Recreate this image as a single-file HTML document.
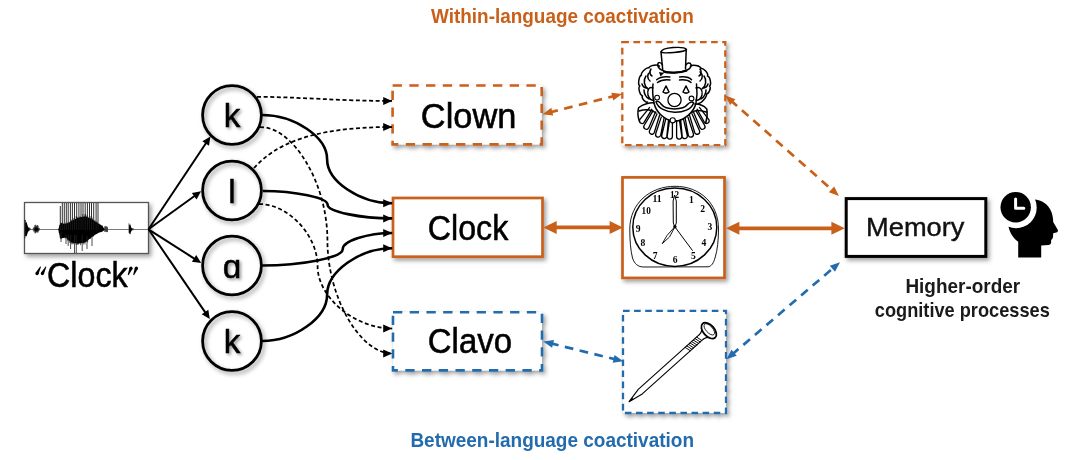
<!DOCTYPE html>
<html><head><meta charset="utf-8"><style>
html,body{margin:0;padding:0;background:#fff;width:1080px;height:460px;overflow:hidden}
svg{display:block;filter:blur(0.5px)}
</style></head><body>
<svg width="1080" height="460" viewBox="0 0 1080 460">
<defs>
<filter id="sh" x="-20%" y="-20%" width="140%" height="150%"><feDropShadow dx="2.2" dy="2.6" stdDeviation="2.1" flood-color="#000" flood-opacity="0.38"/></filter>
<filter id="tsh" x="-30%" y="-30%" width="160%" height="160%"><feDropShadow dx="1.8" dy="1.8" stdDeviation="1.8" flood-color="#000" flood-opacity="0.4"/></filter>
</defs>
<rect width="1080" height="460" fill="#fff"/>
<text x="431" y="22.7" font-family="Liberation Sans, sans-serif" font-weight="bold" font-size="19.8" fill="#C9601A" textLength="262.7" lengthAdjust="spacingAndGlyphs">Within-language coactivation</text>
<text x="410.4" y="446.7" font-family="Liberation Sans, sans-serif" font-weight="bold" font-size="19.6" fill="#226CAD" textLength="283.6" lengthAdjust="spacingAndGlyphs">Between-language coactivation</text>
<text x="905.4" y="292.6" font-family="Liberation Sans, sans-serif" font-weight="bold" font-size="20.2" fill="#1a1a1a" textLength="114.8" lengthAdjust="spacingAndGlyphs">Higher-order</text>
<text x="874.8" y="317" font-family="Liberation Sans, sans-serif" font-weight="bold" font-size="20.2" fill="#1a1a1a" textLength="175" lengthAdjust="spacingAndGlyphs">cognitive processes</text>
<rect x="24.5" y="202.5" width="124" height="51" fill="#fff" stroke="#555" stroke-width="1.3" filter="url(#sh)"/>
<path d="M25.00,219.92V238.26M25.55,219.94V235.95M26.10,223.38V234.84M26.65,225.61V233.46M27.20,225.44V233.01M27.75,227.22V231.55M28.30,227.68V231.58M28.85,227.40V230.44M29.40,227.60V230.78M29.95,228.16V230.29M30.50,228.66V229.83M31.05,229.00V229.60M31.60,229.00V229.60M32.15,229.00V229.60M32.70,228.97V229.68M33.25,228.03V230.57M33.80,227.20V231.45M34.35,226.54V231.66M34.90,224.92V233.35M35.45,224.73V233.31M36.00,225.73V232.55M36.55,225.80V232.18M37.10,224.92V232.70M37.65,225.25V232.30M38.20,225.81V232.39M38.75,227.93V230.91M39.30,227.86V230.39M39.85,228.98V229.60M40.40,229.00V229.60M40.95,229.00V229.60M41.50,229.00V229.60M42.05,228.98V229.60M42.60,229.00V229.60M43.15,229.00V229.60M43.70,229.00V229.60M44.25,229.00V229.60M44.80,229.00V229.60M45.35,229.00V229.60M45.90,229.00V229.60M46.45,229.00V229.60M47.00,228.98V229.60M47.55,229.00V229.60M48.10,229.00V229.60M48.65,229.00V229.60M49.20,229.00V229.60M49.75,229.00V229.60M50.30,229.00V229.60M50.85,229.00V229.60M51.40,229.00V229.60M51.95,229.00V229.60M52.50,229.00V229.60M53.05,228.98V229.60M53.60,229.00V229.60M54.15,229.00V229.60M54.70,228.99V229.60M55.25,229.00V229.60M55.80,229.00V229.60M56.35,229.00V229.60M56.90,228.99V229.60M57.45,229.00V229.60M58.00,229.00V229.60M58.55,229.00V229.99M59.10,227.56V232.94M59.65,225.12V234.11M60.20,224.84V238.29M60.75,225.13V236.22M61.30,223.15V239.21M61.85,223.04V236.34M62.40,222.08V235.86M62.95,225.64V236.12M63.50,223.98V234.95M64.05,225.11V236.44M64.60,223.73V235.18M65.15,224.57V238.57M65.70,222.65V237.47M66.25,223.25V237.60M66.80,225.08V235.14M67.35,225.44V240.12M67.90,222.31V240.91M68.45,225.07V239.69M69.00,222.66V240.70M69.55,223.17V242.75M70.10,224.24V240.51M70.65,220.63V243.23M71.20,220.32V242.47M71.75,219.73V244.39M72.30,221.80V242.94M72.85,218.51V244.34M73.40,220.91V243.88M73.95,218.03V242.40M74.50,219.09V241.04M75.05,219.06V242.85M75.60,222.30V243.17M76.15,215.88V245.01M76.70,217.21V241.40M77.25,216.85V242.99M77.80,218.65V245.02M78.35,221.39V244.32M78.90,221.79V243.12M79.45,217.99V240.09M80.00,216.25V242.18M80.55,216.75V245.21M81.10,219.49V238.02M81.65,219.02V243.31M82.20,219.77V239.29M82.75,214.07V243.03M83.30,217.54V244.58M83.85,218.40V242.91M84.40,219.45V241.12M84.95,214.27V244.47M85.50,213.79V240.45M86.05,216.35V239.56M86.60,220.33V240.42M87.15,214.93V242.16M87.70,216.11V242.22M88.25,219.66V237.10M88.80,218.50V237.41M89.35,220.53V237.83M89.90,217.70V237.84M90.45,220.13V239.03M91.00,215.93V236.79M91.55,222.34V234.41M92.10,217.41V234.22M92.65,218.80V236.21M93.20,221.57V236.65M93.75,223.73V233.88M94.30,221.38V233.18M94.85,219.87V233.70M95.40,223.74V232.78M95.95,221.64V233.72M96.50,222.03V233.91M97.05,221.72V234.19M97.60,222.60V232.22M98.15,223.75V232.03M98.70,225.87V232.49M99.25,223.65V231.74M99.80,225.40V231.91M100.35,224.47V232.04M100.90,225.07V232.20M101.45,225.96V232.04M102.00,225.21V230.90M102.55,225.86V231.41M103.10,227.79V230.74M103.65,227.82V230.67M104.20,228.66V230.06M104.75,226.23V232.04M105.30,226.13V231.65M105.85,226.54V231.31M106.40,226.44V232.09M106.95,226.56V231.97M107.50,227.22V232.18M108.05,228.98V229.60M108.60,229.00V229.60M109.15,229.00V229.60M109.70,229.00V229.60M110.25,229.00V229.60M110.80,229.00V229.60M111.35,229.00V229.60M111.90,229.00V229.60M112.45,229.00V229.60M113.00,229.00V229.60M113.55,229.00V229.60M114.10,229.00V229.60M114.65,229.00V229.60M115.20,228.98V229.60M115.75,228.98V229.60M116.30,229.00V229.60M116.85,229.00V229.60M117.40,229.00V229.60M117.95,229.00V229.60M118.50,229.00V229.60M119.05,229.00V229.60M119.60,229.00V229.60M120.15,228.98V229.60M120.70,229.00V229.60M121.25,229.00V229.60M121.80,229.00V229.60M122.35,228.98V229.60M122.90,229.00V229.60M123.45,229.00V229.60M124.00,229.00V229.60M124.55,229.00V229.60M125.10,228.98V229.60M125.65,229.00V229.60M126.20,229.00V229.60M126.75,229.00V229.60M127.30,229.00V229.60M127.85,229.00V229.60M128.40,228.99V229.60M128.95,223.34V232.84M129.50,226.06V232.52M130.05,225.83V231.97M130.60,227.07V231.75M131.15,227.87V231.32M131.70,228.17V230.72M132.25,228.32V230.22M132.80,228.38V230.13M133.35,228.65V229.94M133.90,228.74V229.72M134.45,229.00V229.60M135.00,229.00V229.60M135.55,229.00V229.60M136.10,228.99V229.60M136.65,229.00V229.60M137.20,228.99V229.60M137.75,229.00V229.60M138.30,229.00V229.60M138.85,228.99V229.60M139.40,229.00V229.60M139.95,229.00V229.60M140.50,229.00V229.60M141.05,229.00V229.60M141.60,229.00V229.60M142.15,229.00V229.60M142.70,229.00V229.60M143.25,228.98V229.60M143.80,229.00V229.60M144.35,229.00V229.60M144.90,229.00V229.60M145.45,229.00V229.60M146.00,229.00V229.60M146.55,229.00V229.60M147.10,229.00V229.60M147.65,229.00V229.60" stroke="#000" stroke-width="0.6" fill="none"/>
<path d="M58.5,229.2 L60.3,223.0 L65.7,224.0 L71.8,221.0 L77.9,217.8 L85.2,216.3 L91.3,218.8 L97.4,223.0 L102.2,226.1 L104.7,229.2 L104.7,229.7 L102.2,231.6 L97.4,233.3 L91.3,237.5 L85.2,242.6 L77.9,243.7 L71.8,242.6 L65.7,237.5 L60.3,238.5 L58.5,229.7Z" fill="#000"/>
<path d="M25.3,223 L26.6,222 L27.8,226.5 L29.3,229.3 L27.8,232 L26.6,236.5 L25.3,235.5 Z M34,229.3 L35.5,227.2 L37.5,227.8 L38.8,229.3 L37.5,230.8 L35.5,231.4 Z M129.2,225 L130.3,224.2 L131.3,228 L132.6,229.3 L131.3,230.6 L130.3,234.5 L129.2,233.5 Z" fill="#000"/>
<path d="M60.3,206V230.0M62.3,203V230.0M64.3,203V230.0M66.3,203V230.0M68.2,203V230.0M70.4,203V230.0M72.4,203V230.0M74.5,203V230.0M76.7,203V230.0M78.9,203V230.0M81.0,203V230.0M83.0,203V230.0M85.2,203V230.0M87.4,203V230.0M89.5,203V230.0M91.5,203V230.0M93.7,203V230.0M96.1,203V230.0M98.0,203V230.0" stroke="#1a1a1a" stroke-width="0.9" fill="none"/>
<path d="M74.5,235V253M76.3,235V253M82.2,235V251M68.2,235V246M70.6,235V249M87,236V249M92,236V246M61,232V242M66,235V244" stroke="#222" stroke-width="0.8" fill="none"/>
<text x="47.1" y="286.7" font-family="Liberation Sans, sans-serif" font-size="35.5" fill="#000" stroke="#000" stroke-width="0.55" textLength="80.6" lengthAdjust="spacingAndGlyphs">Clock</text>
<polygon points="40.20,266.39 35.58,272.87 38.42,274.33 41.00,266.81" fill="#000"/><circle cx="37.00" cy="273.60" r="1.60" fill="#000"/><polygon points="45.60,266.39 40.98,272.87 43.82,274.33 46.40,266.81" fill="#000"/><circle cx="42.40" cy="273.60" r="1.60" fill="#000"/><polygon points="128.62,275.17 132.48,268.81 129.52,267.59 127.78,274.83" fill="#000"/><circle cx="131.00" cy="268.20" r="1.60" fill="#000"/><polygon points="134.02,275.17 137.88,268.81 134.92,267.59 133.18,274.83" fill="#000"/><circle cx="136.40" cy="268.20" r="1.60" fill="#000"/>
<line x1="148.50" y1="229.30" x2="207.10" y2="141.45" stroke="#000" stroke-width="2"/><polygon points="210.40,136.50 209.01,145.79 202.36,141.35" fill="#000"/>
<line x1="148.50" y1="229.30" x2="196.28" y2="194.78" stroke="#000" stroke-width="2"/><polygon points="201.10,191.30 196.55,199.52 191.87,193.04" fill="#000"/>
<line x1="148.50" y1="229.30" x2="196.19" y2="259.79" stroke="#000" stroke-width="2"/><polygon points="201.20,263.00 191.88,261.79 196.19,255.05" fill="#000"/>
<line x1="148.50" y1="229.30" x2="206.44" y2="314.09" stroke="#000" stroke-width="2"/><polygon points="209.80,319.00 201.70,314.24 208.31,309.73" fill="#000"/>
<circle cx="232" cy="115" r="29.3" fill="#fff"/><circle cx="232" cy="115" r="29.4" fill="none" stroke="#000" stroke-width="2.8" filter="url(#sh)"/>
<circle cx="232" cy="190.5" r="29.3" fill="#fff"/><circle cx="232" cy="190.5" r="29.4" fill="none" stroke="#000" stroke-width="2.8" filter="url(#sh)"/>
<circle cx="232" cy="265.5" r="29.3" fill="#fff"/><circle cx="232" cy="265.5" r="29.4" fill="none" stroke="#000" stroke-width="2.8" filter="url(#sh)"/>
<circle cx="232" cy="341" r="29.3" fill="#fff"/><circle cx="232" cy="341" r="29.4" fill="none" stroke="#000" stroke-width="2.8" filter="url(#sh)"/>
<rect x="392.6" y="85.5" width="149.1" height="58.9" fill="#fff" stroke="#C9601A" stroke-width="2.6" stroke-dasharray="9.3 7.43" filter="url(#sh)"/>
<rect x="393" y="198" width="149.5" height="58.7" fill="#fff" stroke="#C9601A" stroke-width="2.7" filter="url(#sh)"/>
<rect x="393" y="312.2" width="149" height="58.2" fill="#fff" stroke="#226CAD" stroke-width="2.6" stroke-dasharray="9.3 7.43" filter="url(#sh)"/>
<text x="420.8" y="127.8" font-family="Liberation Sans, sans-serif" font-size="35" fill="#000" stroke="#000" stroke-width="0.55" textLength="95.6" lengthAdjust="spacingAndGlyphs">Clown</text>
<text x="427.8" y="240.4" font-family="Liberation Sans, sans-serif" font-size="35" fill="#000" stroke="#000" stroke-width="0.55" textLength="80.5" lengthAdjust="spacingAndGlyphs">Clock</text>
<text x="427.8" y="353.3" font-family="Liberation Sans, sans-serif" font-size="35" fill="#000" stroke="#000" stroke-width="0.55" textLength="84.2" lengthAdjust="spacingAndGlyphs">Clavo</text>
<rect x="622.3" y="42.2" width="103" height="102.9" fill="#fff" stroke="#C9601A" stroke-width="2.3" stroke-dasharray="6.6 4.5" filter="url(#sh)"/>
<rect x="622.5" y="177.4" width="102" height="100.5" fill="#fff" stroke="#C9601A" stroke-width="2.7" filter="url(#sh)"/>
<rect x="623" y="310.8" width="103" height="102.2" fill="#fff" stroke="#226CAD" stroke-width="2.3" stroke-dasharray="6.6 4.5" filter="url(#sh)"/>
<rect x="846.2" y="198.6" width="139.6" height="57.8" fill="#fff" stroke="#000" stroke-width="3" filter="url(#sh)"/>
<text x="866.1" y="236.4" font-family="Liberation Sans, sans-serif" font-size="25.4" fill="#111" stroke="#111" stroke-width="0.4" textLength="98.3" lengthAdjust="spacingAndGlyphs">Memory</text>
<path d="M262.00,115.00 C294.55,115.00 327.10,137.07 327.10,159.15 C327.10,181.23 359.65,203.30 392.20,203.30" fill="none" stroke="#000" stroke-width="2.6"/><polygon points="392.20,203.30 383.20,207.30 383.20,199.30" fill="#000"/>
<path d="M263.00,191.00 C295.30,191.00 327.60,197.85 327.60,204.70 C327.60,211.55 359.90,218.40 392.20,218.40" fill="none" stroke="#000" stroke-width="2.6"/><polygon points="392.20,218.40 383.20,222.40 383.20,214.40" fill="#000"/>
<path d="M262.00,265.50 C302.36,265.50 342.72,257.38 342.72,249.25 C342.72,241.12 367.46,233.00 392.20,233.00" fill="none" stroke="#000" stroke-width="2.6"/><polygon points="392.20,233.00 383.20,237.00 383.20,229.00" fill="#000"/>
<path d="M262.00,341.00 C294.55,341.00 327.10,317.82 327.10,294.65 C327.10,271.48 359.65,248.30 392.20,248.30" fill="none" stroke="#000" stroke-width="2.6"/><polygon points="392.20,248.30 383.20,252.30 383.20,244.30" fill="#000"/>
<path d="M257,96.8 C300,97 340,101 392,100.9" fill="none" stroke="#000" stroke-width="1.75" stroke-dasharray="4 2.6"/><polygon points="392.20,100.90 383.20,104.90 383.20,96.90" fill="#000"/>
<path d="M254,168 C275,145 310,127 392,127" fill="none" stroke="#000" stroke-width="1.75" stroke-dasharray="4 2.6"/><polygon points="392.20,127.00 383.20,131.00 383.20,123.00" fill="#000"/>
<path d="M260.00,127.00 C293.71,127.00 327.42,183.62 327.42,240.25 C327.42,296.88 359.81,353.50 392.20,353.50" fill="none" stroke="#000" stroke-width="1.75" stroke-dasharray="4 2.6"/><polygon points="392.20,353.50 383.20,357.50 383.20,349.50" fill="#000"/>
<path d="M259.00,204.00 C288.30,204.00 317.61,235.12 317.61,266.25 C317.61,297.38 354.90,328.50 392.20,328.50" fill="none" stroke="#000" stroke-width="1.75" stroke-dasharray="4 2.6"/><polygon points="392.20,328.50 383.20,332.50 383.20,324.50" fill="#000"/>
<line x1="549.39" y1="112.48" x2="615.21" y2="95.82" stroke="#C9601A" stroke-width="2.7" stroke-dasharray="8.7 6.5"/><polygon points="622.00,94.10 613.29,100.43 611.32,92.68" fill="#C9601A"/><polygon points="542.60,114.20 551.31,107.87 553.28,115.62" fill="#C9601A"/>
<line x1="730.54" y1="100.14" x2="833.76" y2="191.36" stroke="#C9601A" stroke-width="2.7" stroke-dasharray="8.7 6.5"/><polygon points="839.00,196.00 828.86,192.37 834.16,186.38" fill="#C9601A"/><polygon points="725.30,95.50 735.44,99.13 730.14,105.12" fill="#C9601A"/>
<line x1="552.68" y1="227.40" x2="613.62" y2="227.40" stroke="#C9601A" stroke-width="3.8"/><polygon points="623.00,227.40 609.60,233.90 609.60,220.90" fill="#C9601A"/><polygon points="543.30,227.40 556.70,220.90 556.70,233.90" fill="#C9601A"/>
<line x1="735.38" y1="228.30" x2="835.42" y2="228.30" stroke="#C9601A" stroke-width="3.7"/><polygon points="844.80,228.30 831.40,234.80 831.40,221.80" fill="#C9601A"/><polygon points="726.00,228.30 739.40,221.80 739.40,234.80" fill="#C9601A"/>
<line x1="550.09" y1="343.18" x2="616.51" y2="359.62" stroke="#226CAD" stroke-width="2.7" stroke-dasharray="8.7 6.5"/><polygon points="623.30,361.30 612.63,362.78 614.55,355.01" fill="#226CAD"/><polygon points="543.30,341.50 553.97,340.02 552.05,347.79" fill="#226CAD"/>
<line x1="731.82" y1="354.75" x2="834.68" y2="266.75" stroke="#226CAD" stroke-width="2.7" stroke-dasharray="8.7 6.5"/><polygon points="840.00,262.20 835.00,271.74 829.80,265.66" fill="#226CAD"/><polygon points="726.50,359.30 731.50,349.76 736.70,355.84" fill="#226CAD"/>
<path stroke="#000" fill="none" stroke-width="1.5" stroke-linecap="round" stroke-linejoin="round" d="M659.5,66.2 C658.1,64.0 649.7,65.3 649.0,67.8 C646.6,66.8 640.5,72.7 641.4,75.2 C638.9,75.9 637.6,84.6 639.8,86.0 C637.8,87.6 639.9,95.5 642.5,95.9 C641.1,98.0 645.1,102.9 647.5,102.0"/>
<path stroke="#000" fill="none" stroke-width="1.5" stroke-linecap="round" stroke-linejoin="round" d="M690.5,66.2 C692.1,64.1 700.5,65.9 701.0,68.5 C703.5,67.7 708.7,73.7 707.5,76.0 C710.1,76.5 711.7,84.5 709.5,86.0 C711.4,87.6 709.0,94.0 706.5,94.0 C707.4,96.6 700.6,104.2 698.0,103.5"/>
<path stroke="#000" fill="none" stroke-width="1.5" stroke-linecap="round" stroke-linejoin="round" d="M646,76 C643,80 644,86 648,89 M650,72 C647,74 647,79 650,81 M644,90 C644,94 646,97 649,99"/>
<path stroke="#000" fill="none" stroke-width="1.5" stroke-linecap="round" stroke-linejoin="round" d="M704,76 C707,80 706,86 702,89 M700,72 C703,74 703,79 700,81 M706,90 C706,94 704,97 701,99"/>
<path stroke="#000" fill="none" stroke-width="1.5" stroke-linecap="round" stroke-linejoin="round" d="M661,52 C662,47 684,46 686.5,49.5 C685,52 663,54 661,52 Z"/>
<path stroke="#000" fill="none" stroke-width="1.5" stroke-linecap="round" stroke-linejoin="round" d="M661,52 L662.7,69.5 M686.2,50 L685.5,69"/>
<path stroke="#000" fill="none" stroke-width="1.5" stroke-linecap="round" stroke-linejoin="round" d="M657.8,64 C657,69 664,72.5 674,72.7 C684,72.7 692,69 691,64.6 C690,62 687,63 686,65 M657.8,64 C658,62 661,62 662.5,65"/>
<path d="M659,72 L664,73 L660.5,76.5 Z" fill="#000"/>
<path d="M663,71.5 C668,73.2 680,73.2 687,70.5" stroke="#000" stroke-width="2.2" fill="none"/>
<path stroke="#000" fill="none" stroke-width="1.5" stroke-linecap="round" stroke-linejoin="round" d="M651,69 C649,72 650,75 652,76 M700,69 C702,72 701,75 699,76 M642,84 C643,87 645,88 647,88 M708,84 C707,87 705,88 703,88"/>
<path stroke="#000" fill="none" stroke-width="1.5" stroke-linecap="round" stroke-linejoin="round" d="M653,84 C652,92 653,98 654,103 C656,112 664,120 674.5,121.5 C685,120 694,112 696,103 C697,98 697.5,92 696.5,84"/>
<path stroke="#000" fill="none" stroke-width="1.5" stroke-linecap="round" stroke-linejoin="round" d="M653,88 C649,86 647,90 648,95 C649,99 652,101 654,100 M696,88 C700,86 703,90 702,95 C701,99 698,101 696,100"/>
<path stroke="#000" fill="none" stroke-width="1.5" stroke-linecap="round" stroke-linejoin="round" d="M656.7,79.8 C660,77 666,76.5 669.8,77 M657.5,82.5 C661,80 666,79.5 670,80 M679.6,77 C684,76.5 689,77 691.5,79.8 M679.5,80 C684,79.5 688,80 691,82.5"/>
<path stroke="#000" fill="none" stroke-width="1.5" stroke-linecap="round" stroke-linejoin="round" d="M663,92 L666,86 L669,92 C667,93.5 665,93.5 663,92 Z M683,92 L686,86 L689,92 C687,93.5 685,93.5 683,92 Z"/>
<circle cx="674.5" cy="100" r="6.6" fill="#fff" stroke="#000" stroke-width="1.3"/>
<circle cx="657.1" cy="97.6" r="2.4" fill="#fff" stroke="#000" stroke-width="1.1"/>
<circle cx="691.5" cy="98.5" r="2.4" fill="#fff" stroke="#000" stroke-width="1.1"/>
<path stroke="#000" fill="none" stroke-width="1.5" stroke-linecap="round" stroke-linejoin="round" d="M656,101.7 C660,115 689,116 693.6,102.9 C692,101 689,103 688,104 C683,110.5 666,110.5 661,104 C660,102 657,100.5 656,101.7 Z"/>
<path stroke="#000" fill="none" stroke-width="1.5" stroke-linecap="round" stroke-linejoin="round" d="M638.6,107.7 C643,104 650,102.5 654.1,102.9 M694.8,104.1 C699,104 704,106 706.8,108.9 M638.6,107.7 C637.5,112 638,118 639.8,122 M706.8,108.9 C707.5,113 707,119 705.6,123.3"/>
<path stroke="#000" fill="none" stroke-width="1.5" stroke-linecap="round" stroke-linejoin="round" d="M639,111 C645,109 651,109 656,113 M706,112 C700,110 694,110 691,113"/>
<path stroke="#000" fill="none" stroke-width="1.3" stroke-linejoin="round" d="M649.9,107.2 L639.9,119.4 C637.8,122.3 642.1,125.2 644.1,122.4 L652.1,108.8 M653.3,110.4 L644.1,125.5 C642.5,128.6 647.1,131.0 648.7,127.9 L655.7,111.6 M657.2,113.5 L649.5,130.7 C648.2,133.9 653.1,135.8 654.3,132.5 L659.8,114.5 M661.4,116.6 L655.7,133.8 C654.8,137.2 659.8,138.5 660.7,135.2 L664.2,117.4 M665.8,118.8 L661.7,135.5 C661.1,138.9 666.2,139.8 666.8,136.4 L668.6,119.2 M669.6,119.9 L667.2,136.2 C666.9,139.7 672.1,140.1 672.4,136.6 L672.4,120.1 M676.6,120.1 L676.6,136.6 C676.9,140.1 682.1,139.7 681.8,136.2 L679.4,119.9 M680.6,119.2 L682.2,136.4 C682.8,139.8 687.9,139.0 687.3,135.5 L683.4,118.8 M685.0,117.3 L688.3,135.1 C689.2,138.5 694.2,137.2 693.4,133.8 L687.8,116.7 M689.3,114.5 L694.7,132.5 C695.9,135.8 700.8,134.0 699.5,130.7 L691.9,113.5 M693.3,111.6 L700.1,127.9 C701.7,131.0 706.3,128.6 704.7,125.5 L695.7,110.4 M696.8,108.8 L704.4,122.3 C706.3,125.2 710.7,122.3 708.7,119.4 L699.2,107.2 "/>
<circle cx="672.7" cy="120.3" r="2.6" fill="#fff" stroke="#000" stroke-width="1.1"/>
<path d="M629.8,229 C629.8,203.5 650,186.3 675,186.3 C700,186.3 718.5,203.5 718.5,229 C718.5,240 717.5,250 715,258 C713.5,263 711.5,266.5 708,266.8 L644,267 C638,267 634.5,264 632.5,258 C630.5,250 629.8,240 629.8,229 Z" fill="none" stroke="#000" stroke-width="0.9"/>
<ellipse cx="674.8" cy="227.2" rx="42" ry="39.2" fill="none" stroke="#000" stroke-width="1.5"/>
<text x="674.6" y="198.0" text-anchor="middle" font-family="Liberation Serif, serif" font-weight="bold" font-size="10" fill="#000" textLength="9.2" lengthAdjust="spacingAndGlyphs">12</text>
<text x="691.3" y="202.9" text-anchor="middle" font-family="Liberation Serif, serif" font-weight="bold" font-size="10" fill="#000" textLength="4.8" lengthAdjust="spacingAndGlyphs">1</text>
<text x="702.7" y="212.1" text-anchor="middle" font-family="Liberation Serif, serif" font-weight="bold" font-size="10" fill="#000" textLength="4.8" lengthAdjust="spacingAndGlyphs">2</text>
<text x="709.8" y="229.5" text-anchor="middle" font-family="Liberation Serif, serif" font-weight="bold" font-size="10" fill="#000" textLength="4.8" lengthAdjust="spacingAndGlyphs">3</text>
<text x="704" y="246.3" text-anchor="middle" font-family="Liberation Serif, serif" font-weight="bold" font-size="10" fill="#000" textLength="4.8" lengthAdjust="spacingAndGlyphs">4</text>
<text x="693.5" y="258.5" text-anchor="middle" font-family="Liberation Serif, serif" font-weight="bold" font-size="10" fill="#000" textLength="4.8" lengthAdjust="spacingAndGlyphs">5</text>
<text x="675.2" y="263.3" text-anchor="middle" font-family="Liberation Serif, serif" font-weight="bold" font-size="10" fill="#000" textLength="4.8" lengthAdjust="spacingAndGlyphs">6</text>
<text x="655.2" y="258.5" text-anchor="middle" font-family="Liberation Serif, serif" font-weight="bold" font-size="10" fill="#000" textLength="4.8" lengthAdjust="spacingAndGlyphs">7</text>
<text x="643" y="246.0" text-anchor="middle" font-family="Liberation Serif, serif" font-weight="bold" font-size="10" fill="#000" textLength="4.8" lengthAdjust="spacingAndGlyphs">8</text>
<text x="638.2" y="231.9" text-anchor="middle" font-family="Liberation Serif, serif" font-weight="bold" font-size="10" fill="#000" textLength="4.8" lengthAdjust="spacingAndGlyphs">9</text>
<text x="646.2" y="214.3" text-anchor="middle" font-family="Liberation Serif, serif" font-weight="bold" font-size="10" fill="#000" textLength="9.2" lengthAdjust="spacingAndGlyphs">10</text>
<text x="657.1" y="202.3" text-anchor="middle" font-family="Liberation Serif, serif" font-weight="bold" font-size="10" fill="#000" textLength="9.2" lengthAdjust="spacingAndGlyphs">11</text>
<path d="M674.8,227 L673.3,223 L673.1,201 L674.6,195 L676.3,201 L676.3,223 Z" fill="#fff" stroke="#000" stroke-width="1"/>
<path d="M675.2,226.3 L669.5,237 L662.2,243.7 L667,235.5 Z" fill="#fff" stroke="#000" stroke-width="0.9"/>
<path d="M675,227 L692.6,250.7" stroke="#000" stroke-width="1"/>
<circle cx="674.9" cy="226.8" r="1.7" fill="#000"/>
<g transform="translate(629.1,401.7) rotate(-41.9)"><path stroke="#000" fill="none" stroke-linecap="round" stroke-width="1.1" d="M0,0 L15,-3.0 M0,0 L15,3.0 M15,-3.0 L97,-3.0 M15,3.0 L97,3.0"/><path d="M0,0 L5,-1.1 L5,1.1 Z" fill="#000"/><path stroke="#000" fill="none" stroke-linecap="round" stroke-width="0.9" d="M78.0,-3.0 L79.6,3.0 M80.2,-3.0 L81.8,3.0 M82.4,-3.0 L84.0,3.0 M84.6,-3.0 L86.2,3.0 M86.8,-3.0 L88.4,3.0 M89.0,-3.0 L90.6,3.0 M91.2,-3.0 L92.8,3.0 M93.4,-3.0 L95.0,3.0 "/><path stroke="#000" fill="none" stroke-linecap="round" stroke-width="1.1" d="M97,-3.0 C100,-3.2 102,-4.5 103,-6.5 M97,3.0 C100,3.2 102,4.5 103,6.5"/><ellipse cx="106.8" cy="0.4" rx="5.6" ry="9.4" fill="#fff" stroke="#000" stroke-width="1.8"/><ellipse cx="108" cy="-0.3" rx="3.3" ry="7" fill="none" stroke="#000" stroke-width="0.8"/></g>
<path d="M1030,199.5 C1038,198.5 1046,202 1050,209 C1052.5,213.5 1053.2,218 1053.2,222 L1057.6,229.6 C1058.3,231 1057.8,232.3 1056.3,232.6 L1053.2,233.3 L1053,237.3 C1052.8,238.6 1051.3,239.5 1051.1,240.6 L1051.1,242.8 C1051.1,244 1049.8,244.8 1048.3,244.9 L1041.2,245.6 L1041.2,257.6 L1018.2,257.6 L1018.2,241.8 C1012,237 1008.5,231 1008,222 Z" fill="#000"/>
<circle cx="1016" cy="207.5" r="20.7" fill="#fff"/>
<circle cx="1015.7" cy="207.3" r="15.2" fill="#000"/>
<path d="M1015.6,199 V208.3 H1023.8" fill="none" stroke="#fff" stroke-width="3" stroke-linecap="round" stroke-linejoin="round"/>
<text x="232" y="127.3" text-anchor="middle" font-family="Liberation Sans, sans-serif" font-size="33.2" fill="#000" stroke="#000" stroke-width="0.5" filter="url(#tsh)">k</text>
<text x="232" y="202.8" text-anchor="middle" font-family="Liberation Sans, sans-serif" font-size="33.2" fill="#000" stroke="#000" stroke-width="0.5" filter="url(#tsh)">l</text>
<text x="232" y="278" text-anchor="middle" font-family="Liberation Sans, sans-serif" font-size="33.2" fill="#000" stroke="#000" stroke-width="0.5" filter="url(#tsh)">ɑ</text>
<text x="232" y="353" text-anchor="middle" font-family="Liberation Sans, sans-serif" font-size="33.2" fill="#000" stroke="#000" stroke-width="0.5" filter="url(#tsh)">k</text>

</svg>
</body></html>
